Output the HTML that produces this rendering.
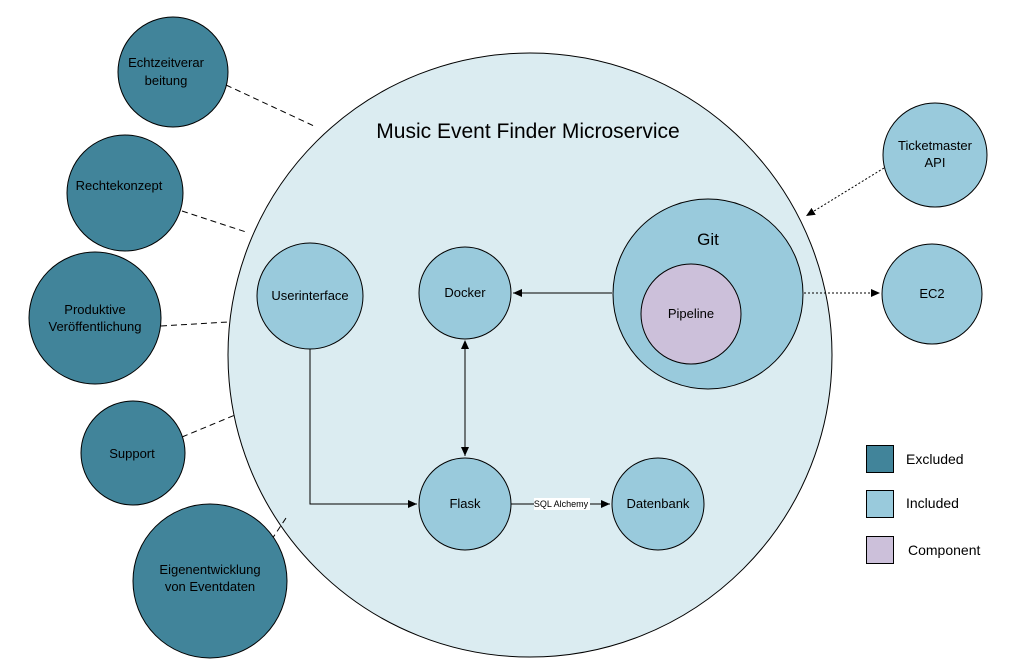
<!DOCTYPE html>
<html><head><meta charset="utf-8"><style>
html,body{margin:0;padding:0;background:#fff}
svg{display:block}
text{font-family:"Liberation Sans",sans-serif;fill:#000}
</style></head><body>
<svg width="1015" height="672" viewBox="0 0 1015 672" xmlns="http://www.w3.org/2000/svg">
<defs>
<marker id="a" markerWidth="10" markerHeight="10" refX="9" refY="5" orient="auto" markerUnits="userSpaceOnUse">
<path d="M0,1 L9,5 L0,9 z" fill="#000"/></marker>
<marker id="s" markerWidth="10" markerHeight="10" refX="1" refY="5" orient="auto" markerUnits="userSpaceOnUse">
<path d="M9,1 L0,5 L9,9 z" fill="#000"/></marker>
</defs>
<circle cx="530" cy="355" r="302" fill="#dbecf1" stroke="#000" stroke-width="1"/>
<text x="528" y="138" font-size="21" text-anchor="middle">Music Event Finder Microservice</text>
<!-- dashed lines -->
<g stroke="#000" stroke-dasharray="6,4" stroke-width="1">
<line x1="226" y1="85" x2="314" y2="126"/>
<line x1="182" y1="211" x2="246" y2="232"/>
<line x1="161" y1="326" x2="228" y2="322"/>
<line x1="182" y1="437" x2="235" y2="415"/>
<line x1="266" y1="548" x2="286" y2="518"/>
</g>
<g fill="#41849a" stroke="#000">
<circle cx="173" cy="72" r="55"/>
<circle cx="125" cy="193" r="58"/>
<circle cx="95" cy="318" r="66"/>
<circle cx="133" cy="453" r="52"/>
<circle cx="210" cy="581" r="77"/>
</g>
<g font-size="13" text-anchor="middle">
<text x="166" y="67">Echtzeitverar</text><text x="166" y="85">beitung</text>
<text x="119" y="190">Rechtekonzept</text>
<text x="95" y="314">Produktive</text><text x="95" y="331">Veröffentlichung</text>
<text x="132" y="458">Support</text>
<text x="210" y="574">Eigenentwicklung</text><text x="210" y="591">von Eventdaten</text>
</g>
<!-- connectors -->
<g stroke="#000" fill="none" stroke-width="1">
<polyline points="310,349 310,504 417,504" marker-end="url(#a)"/>
<line x1="465" y1="341" x2="465" y2="456" marker-start="url(#s)" marker-end="url(#a)"/>
<line x1="612" y1="293" x2="513" y2="293" marker-end="url(#a)"/>
<line x1="511" y1="504" x2="610" y2="504" marker-end="url(#a)"/>
<line x1="884" y1="168" x2="806" y2="216" stroke-dasharray="2,2" marker-end="url(#a)"/>
<line x1="804" y1="293" x2="880" y2="293" stroke-dasharray="2,2" marker-end="url(#a)"/>
</g>
<rect x="534" y="498" width="56" height="12" fill="#fff"/>
<text x="561" y="507" font-size="9" text-anchor="middle">SQL Alchemy</text>
<g fill="#99cadc" stroke="#000">
<circle cx="310" cy="296" r="53"/>
<circle cx="465" cy="293" r="46"/>
<circle cx="465" cy="504" r="46"/>
<circle cx="658" cy="504" r="46"/>
<circle cx="708" cy="294" r="95"/>
<circle cx="935" cy="155" r="52"/>
<circle cx="932" cy="294" r="50"/>
</g>
<circle cx="691" cy="314" r="50" fill="#ccc0da" stroke="#000"/>
<g font-size="13" text-anchor="middle">
<text x="310" y="300">Userinterface</text>
<text x="465" y="297">Docker</text>
<text x="465" y="508">Flask</text>
<text x="658" y="508">Datenbank</text>
<text x="708" y="245" font-size="17">Git</text>
<text x="691" y="318">Pipeline</text>
<text x="935" y="150">Ticketmaster</text><text x="935" y="167">API</text>
<text x="932" y="298">EC2</text>
</g>
<rect x="866.5" y="445.5" width="27" height="27" fill="#41849a" stroke="#000"/>
<rect x="866.5" y="490.5" width="27" height="27" fill="#99cadc" stroke="#000"/>
<rect x="866.5" y="536.5" width="27" height="27" fill="#ccc0da" stroke="#000"/>
<g font-size="14">
<text x="906" y="464">Excluded</text>
<text x="906" y="508">Included</text>
<text x="908" y="555">Component</text>
</g>
</svg>
</body></html>
